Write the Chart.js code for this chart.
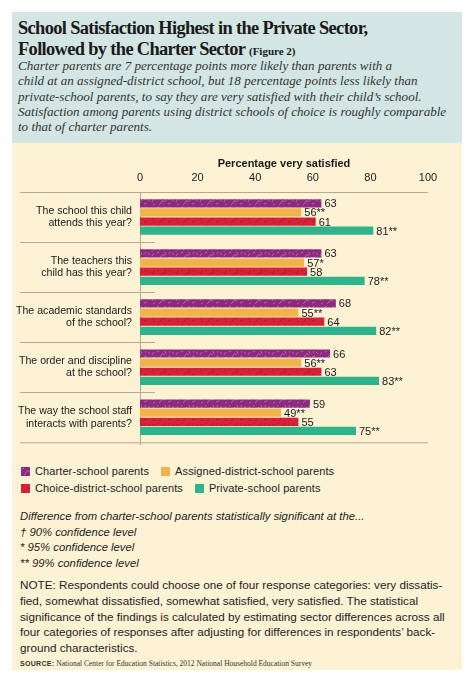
<!DOCTYPE html>
<html>
<head>
<meta charset="utf-8">
<script src="https://cdn.jsdelivr.net/npm/chart.js@4/dist/chart.umd.min.js"></script>
<style>
  body { margin: 0; background: #fff; width: 475px; height: 682px; position: relative; overflow: hidden; }
  #panel { position: absolute; left: 12px; top: 12px; width: 450px; height: 658px; background: #fdf2d4; }
  #head { position: absolute; left: 0; top: 0; width: 450px; height: 131px; background: #d4e6e3; }
  .abs { position: absolute; white-space: nowrap; color: #222; }
  .abs div { white-space: nowrap; }
  #title { left: 6px; top: 6px; font: bold 18.4px "Liberation Serif", serif; letter-spacing: -0.65px; color: #1a1a1a; }
  #title div { height: 20.5px; line-height: 20.5px; }
  #title small { font-size: 11px; letter-spacing: 0; }
  #sub { left: 6px; top: 46px; font: italic 13.05px "Liberation Serif", serif; color: #333; }
  #sub div { height: 15.3px; line-height: 15.3px; }
  #legend { left: 9px; top: 451px; font: 11px "Liberation Sans", sans-serif; color: #222; letter-spacing: 0.1px; }
  #legend div { height: 17px; line-height: 17px; }
  .sw { display: inline-block; width: 9px; height: 9px; margin-right: 5px; vertical-align: -1px; }
  #sig { left: 8px; top: 497px; font: italic 11.3px "Liberation Sans", sans-serif; color: #222; }
  #sig div { height: 15.5px; line-height: 15.5px; }
  #note { left: 8px; top: 565px; font: 11.7px "Liberation Sans", sans-serif; color: #222; }
  #note div { height: 15.75px; line-height: 15.75px; }
  #source { left: 8px; top: 647px; font: 7.5px "Liberation Serif", serif; color: #333; }
  #source b { font: bold 7px "Liberation Sans", sans-serif; letter-spacing: 0.3px; }
  #chartBox { position: absolute; left: 0; top: 131px; width: 450px; height: 320px; }
</style>
</head>
<body>
<div id="panel">
  <div id="head"></div>
  <div class="abs" id="title">
    <div>School Satisfaction Highest in the Private Sector,</div>
    <div>Followed by the Charter Sector <small>(Figure 2)</small></div>
  </div>
  <div class="abs" id="sub">
    <div>Charter parents are 7 percentage points more likely than parents with a</div>
    <div>child at an assigned-district school, but 18 percentage points less likely than</div>
    <div>private-school parents, to say they are very satisfied with their child’s school.</div>
    <div>Satisfaction among parents using district schools of choice is roughly comparable</div>
    <div>to that of charter parents.</div>
  </div>
  <div id="chartBox"><canvas id="myChart" width="450" height="320"></canvas></div>
  <div class="abs" id="legend"></div>
  <div class="abs" id="sig">
    <div>Difference from charter-school parents statistically significant at the...</div>
    <div>† 90% confidence level</div>
    <div>* 95% confidence level</div>
    <div>** 99% confidence level</div>
  </div>
  <div class="abs" id="note">
    <div>NOTE: Respondents could choose one of four response categories: very dissatis-</div>
    <div>fied, somewhat dissatisfied, somewhat satisfied, very satisfied. The statistical</div>
    <div>significance of the findings is calculated by estimating sector differences across all</div>
    <div>four categories of responses after adjusting for differences in respondents’ back-</div>
    <div>ground characteristics.</div>
  </div>
  <div class="abs" id="source"><b>SOURCE:</b> National Center for Education Statistics, 2012 National Household Education Survey</div>
</div>
<script>
// Perguntas (categorias)
const categories = [
    ['The school this child', 'attends this year?'],
    ['The teachers this', 'child has this year?'],
    ['The academic standards', 'of the school?'],
    ['The order and discipline', 'at the school?'],
    ['The way the school staff', 'interacts with parents?']
];

const seriesNames = [
    'Charter-school parents',
    'Assigned-district-school parents',
    'Choice-district-school parents',
    'Private-school parents'
];

// Percentage very satisfied
const charter = [63, 63, 68, 66, 59];
const assigned = [56, 57, 55, 56, 49];
const choice = [61, 58, 64, 63, 55];
const privateSchool = [81, 78, 82, 83, 75];

// significance markers
const charterSig = ['', '', '', '', ''];
const assignedSig = ['**', '*', '**', '**', '**'];
const choiceSig = ['', '', '', '', ''];
const privateSig = ['**', '**', '**', '**', '**'];

const xTicks = [0, 20, 40, 60, 80, 100];

const lineColor = '#b3aa95';
const textColor = '#1a1a1a';
const labelFont = { family: 'Liberation Sans', size: 10.6, weight: 'normal' };
const titleFont = { family: 'Liberation Sans', size: 11, weight: 'bold' };

// textured fill, like the printed bars
function makePattern(base, fleck) {
    const c = document.createElement('canvas');
    c.width = 24; c.height = 9;
    const g = c.getContext('2d');
    g.fillStyle = base;
    g.fillRect(0, 0, 24, 9);
    g.strokeStyle = fleck;
    g.lineWidth = 0.8;
    const strokes = [[1,2,3,1],[5,6,7,3],[9,1,10,4],[12,7,15,6],[16,2,18,4],[20,5,22,2],[3,8,5,6],[14,1,13,3],[21,8,23,7],[7,4,9,5]];
    strokes.forEach(s => { g.beginPath(); g.moveTo(s[0], s[1]); g.lineTo(s[2], s[3]); g.stroke(); });
    return c;
}
const purpleCanvas = makePattern('#8c2b7e', '#c86db7');
const redCanvas = makePattern('#d8223a', '#a8182b');

document.addEventListener('DOMContentLoaded', function() {
    const ctx = document.getElementById('myChart').getContext('2d');
    const purplePattern = ctx.createPattern(purpleCanvas, 'repeat');
    const redPattern = ctx.createPattern(redCanvas, 'repeat');

    const colors = [purplePattern, '#f1b34c', redPattern, '#2eb38b'];
    const values = [charter, assigned, choice, privateSchool];
    const sigs = [charterSig, assignedSig, choiceSig, privateSig];

    // legenda em HTML
    const swatchBg = [
        'url(' + purpleCanvas.toDataURL() + ')', '#f1b34c',
        'url(' + redCanvas.toDataURL() + ')', '#2eb38b'
    ];
    const item = i => '<span class="sw" style="background:' + swatchBg[i] + '"></span>' + seriesNames[i];
    const gap = '<span style="display:inline-block;width:12px"></span>';
    document.getElementById('legend').innerHTML =
        '<div>' + item(0) + gap + item(1) + '</div>' +
        '<div>' + item(2) + gap + item(3) + '</div>';

    // value labels at the end of each bar
    const valueLabels = {
        id: 'valueLabels',
        afterDatasetsDraw(chart) {
            const c = chart.ctx;
            c.save();
            c.font = '11px "Liberation Sans"';
            c.fillStyle = textColor;
            c.textBaseline = 'middle';
            c.textAlign = 'left';
            chart.data.datasets.forEach((ds, i) => {
                chart.getDatasetMeta(i).data.forEach((bar, j) => {
                    c.fillText(ds.data[j] + sigs[i][j], bar.x + 3, bar.y + 1);
                });
            });
            c.restore();
        }
    };

    // rules: full width top/bottom, short separators between questions
    const rules = {
        id: 'rules',
        beforeDatasetsDraw(chart) {
            const c = chart.ctx;
            const a = chart.chartArea;
            const y = chart.scales.y;
            c.save();
            c.strokeStyle = lineColor;
            c.lineWidth = 1;
            c.beginPath();
            c.moveTo(8, a.top + 0.5); c.lineTo(a.right, a.top + 0.5);
            c.moveTo(8, a.bottom + 0.5); c.lineTo(a.right, a.bottom + 0.5);
            for (let i = 0; i < categories.length - 1; i++) {
                const yy = Math.round((y.getPixelForTick(i) + y.getPixelForTick(i + 1)) / 2) + 0.5;
                c.moveTo(8, yy); c.lineTo(a.left + 15, yy);
            }
            c.moveTo(a.left + 0.5, a.top); c.lineTo(a.left + 0.5, a.bottom + 3);
            c.stroke();
            c.restore();
        }
    };

    new Chart(ctx, {
        type: 'bar',
        data: {
            labels: categories,
            datasets: seriesNames.map((name, i) => ({
                label: name,
                data: values[i],
                backgroundColor: colors[i],
                borderWidth: 0,
                barPercentage: 0.9,
                categoryPercentage: 0.73
            }))
        },
        options: {
            indexAxis: 'y',
            responsive: false,
            animation: false,
            layout: { padding: { top: 0, right: 34, bottom: 0, left: 0 } },
            scales: {
                x: {
                    position: 'top',
                    min: 0,
                    max: 100,
                    afterBuildTicks: s => { s.ticks = xTicks.map(v => ({ value: v })); },
                    afterFit: s => { s.height = 49; },
                    grid: { display: false, drawTicks: false },
                    border: { display: false },
                    ticks: { color: textColor, font: { family: 'Liberation Sans', size: 11 }, padding: 7 },
                    title: {
                        display: true,
                        text: 'Percentage very satisfied',
                        color: textColor,
                        font: titleFont,
                        padding: { top: 14, bottom: 0 }
                    }
                },
                y: {
                    afterFit: s => { s.width = 128; },
                    grid: { display: false, drawTicks: false },
                    border: { display: false },
                    ticks: { color: textColor, font: labelFont, padding: 8 }
                }
            },
            plugins: {
                legend: { display: false },
                tooltip: { enabled: false }
            }
        },
        plugins: [rules, valueLabels]
    });
});
</script>
</body>
</html>
